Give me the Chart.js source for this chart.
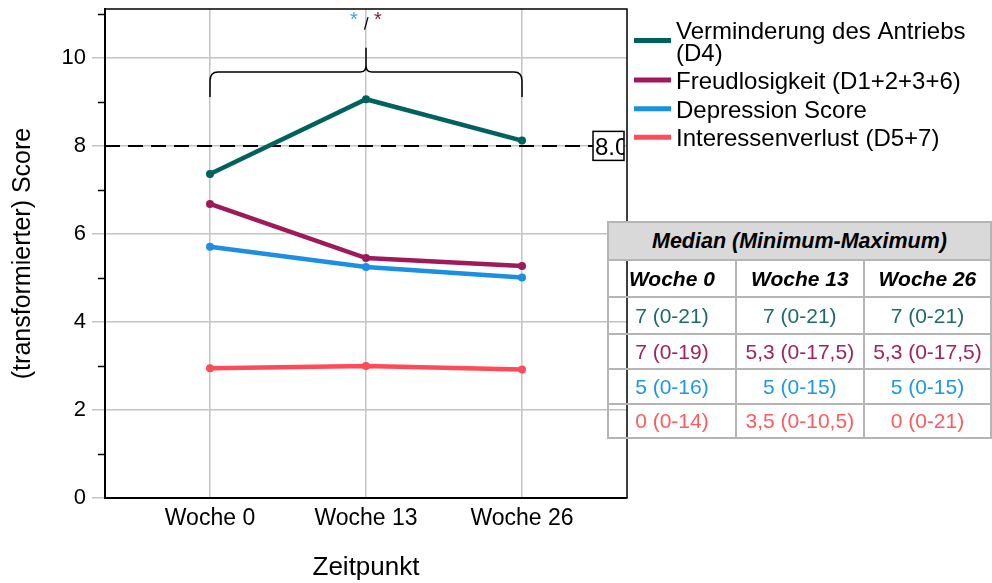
<!DOCTYPE html>
<html lang="de">
<head>
<meta charset="utf-8">
<title>Score im Verlauf</title>
<script src="https://cdn.jsdelivr.net/npm/chart.js@4.4.1/dist/chart.umd.min.js"></script>
<style>
  html, body { margin: 0; padding: 0; background: #fff; overflow: hidden; width: 992px; height: 583px; }
  #wrap { position: relative; width: 992px; height: 583px; }
  #chart { position: absolute; left: 0; top: 0; }
  #medianTable {
    position: absolute; left: 607px; top: 221px;
    border-collapse: collapse; table-layout: fixed;
    font-family: "Liberation Sans", Arial, sans-serif; font-size: 21px;
  }
  #medianTable td, #medianTable th {
    border: 2px solid #b5b5b5; text-align: center; vertical-align: middle;
    padding: 0; white-space: nowrap; overflow: hidden;
  }
  #medianTable th { font-weight: bold; font-style: italic; color: #000; }
  #medianTable tr.title th { background: #d9d9d9; height: 36px; font-size: 21.5px; }
  #medianTable tr.cols th { height: 35px; }
  #medianTable tr.r0 td { height: 35px; }
  #medianTable tr.r1 td { height: 33px; }
  #medianTable tr.r2 td { height: 33px; }
  #medianTable tr.r3 td { height: 32px; }
</style>
</head>
<body>
<div id="wrap">
  <canvas id="chart" width="992" height="583"></canvas>
  <table id="medianTable"></table>
</div>
<script>
// Zeitpunkte
const categories = ['Woche 0', 'Woche 13', 'Woche 26'];

// Mittelwerte der (transformierten) Scores je Zeitpunkt
const antrieb        = [7.36, 9.06, 8.12];
const freudlosigkeit = [6.68, 5.45, 5.27];
const depression     = [5.71, 5.25, 5.01];
const interesse      = [2.95, 3.00, 2.92];

const seriesLabels = [
  ['Verminderung des Antriebs', '(D4)'],
  ['Freudlosigkeit (D1+2+3+6)'],
  ['Depression Score'],
  ['Interessenverlust (D5+7)']
];
const seriesColors = ['#00625e', '#9e1a5a', '#1a8fe3', '#ff4b57'];
const tableColors  = ['#1d6c67', '#a0245d', '#2196ee', '#ff5a5f'];

// y-Achse
const yTicks = [0, 1, 2, 3, 4, 5, 6, 7, 8, 9, 10, 11];
const cutoff = 8.0;

// Klammer mit Signifikanzsternen über dem Verlauf
const braceEnd = 9.11;
const braceBar = 9.68;
const braceTip = 10.23;
const starLevel = 10.89;

// Tabelle: Median (Minimum-Maximum)
const tableTitle = 'Median (Minimum-Maximum)';
const medianAntrieb    = ['7 (0-21)', '7 (0-21)', '7 (0-21)'];
const medianFreud      = ['7 (0-19)', '5,3 (0-17,5)', '5,3 (0-17,5)'];
const medianDepression = ['5 (0-16)', '5 (0-15)', '5 (0-15)'];
const medianInteresse  = ['0 (0-14)', '3,5 (0-10,5)', '0 (0-21)'];

const FONT = '"Liberation Sans", Arial, Helvetica, sans-serif';

// --- Tabelle aufbauen ---
(function buildTable() {
  const t = document.getElementById('medianTable');
  const colW = [130, 129, 128];
  let html = '<colgroup>' + colW.map(w => `<col style="width:${w}px">`).join('') + '</colgroup>';
  html += `<tr class="title"><th colspan="3">${tableTitle}</th></tr>`;
  html += '<tr class="cols">' + categories.map(c => `<th>${c}</th>`).join('') + '</tr>';
  [medianAntrieb, medianFreud, medianDepression, medianInteresse].forEach((row, i) => {
    html += `<tr class="r${i}">` + row.map(v => `<td style="color:${tableColors[i]}">${v}</td>`).join('') + '</tr>';
  });
  t.innerHTML = html;
})();

// --- Zusatzelemente: Grenzwertlinie, Rahmen, Nebenstriche, Klammer, Legende ---
const decorations = {
  id: 'decorations',
  beforeDatasetsDraw(chart) {
    const { ctx, chartArea: a, scales: { y } } = chart;
    const yc = y.getPixelForValue(cutoff);
    ctx.save();
    ctx.strokeStyle = '#000';
    ctx.lineWidth = 2;
    ctx.setLineDash([15, 8]);
    ctx.beginPath();
    ctx.moveTo(a.left, yc);
    ctx.lineTo(a.right - 34, yc);
    ctx.stroke();
    ctx.restore();
  },
  afterDatasetsDraw(chart) {
    const { ctx, chartArea: a, scales: { x, y } } = chart;
    ctx.save();

    // Rahmen oben und rechts
    ctx.strokeStyle = '#000';
    ctx.lineWidth = 1.5;
    ctx.beginPath();
    ctx.moveTo(a.left, a.top);
    ctx.lineTo(a.right, a.top);
    ctx.lineTo(a.right, a.bottom);
    ctx.stroke();

    // Nebenstriche an ungeraden Werten
    yTicks.filter(v => v % 2 === 1).forEach(v => {
      const py = Math.round(y.getPixelForValue(v)) + 0.5;
      ctx.beginPath();
      ctx.moveTo(a.left - 7, py);
      ctx.lineTo(a.left, py);
      ctx.stroke();
    });

    // Grenzwert-Beschriftung
    const yc = y.getPixelForValue(cutoff);
    const boxW = 31, boxH = 29;
    const boxL = a.right - 3 - boxW, boxT = yc - boxH / 2;
    ctx.fillStyle = '#fff';
    ctx.fillRect(boxL, boxT, boxW, boxH);
    ctx.lineWidth = 1.5;
    ctx.strokeRect(boxL, boxT, boxW, boxH);
    ctx.save();
    ctx.beginPath();
    ctx.rect(boxL, boxT, boxW, boxH);
    ctx.clip();
    ctx.fillStyle = '#000';
    ctx.font = '24px ' + FONT;
    ctx.textAlign = 'left';
    ctx.textBaseline = 'alphabetic';
    ctx.fillText(cutoff.toFixed(1), boxL + 2, yc + 9);
    ctx.restore();

    // geschweifte Klammer
    const xl = x.getPixelForValue(0), xm = x.getPixelForValue(1), xr = x.getPixelForValue(2);
    const yE = y.getPixelForValue(braceEnd), yB = y.getPixelForValue(braceBar), yT = y.getPixelForValue(braceTip);
    const r = 6;
    ctx.strokeStyle = '#000';
    ctx.lineWidth = 1.5;
    ctx.beginPath();
    ctx.moveTo(xl, yE);
    ctx.lineTo(xl, yB + 9);
    ctx.quadraticCurveTo(xl, yB, xl + r + 2, yB);
    ctx.lineTo(xm - r, yB);
    ctx.quadraticCurveTo(xm, yB, xm, yB - r);
    ctx.lineTo(xm, yT);
    ctx.moveTo(xm, yB - r);
    ctx.quadraticCurveTo(xm, yB, xm + r, yB);
    ctx.lineTo(xr - r - 2, yB);
    ctx.quadraticCurveTo(xr, yB, xr, yB + 9);
    ctx.lineTo(xr, yE);
    ctx.stroke();

    // Sterne und Schrägstrich
    const ys = y.getPixelForValue(starLevel);
    ctx.font = '20px ' + FONT;
    ctx.textAlign = 'center';
    ctx.textBaseline = 'alphabetic';
    ctx.fillStyle = '#3aa2ee';
    ctx.fillText('*', x.getPixelForValue(0.923), ys + 7);
    ctx.fillStyle = '#7b1f2e';
    ctx.fillText('*', x.getPixelForValue(1.077), ys + 7);
    ctx.strokeStyle = '#000';
    ctx.lineWidth = 1.3;
    ctx.beginPath();
    ctx.moveTo(xm - 1.5, ys + 11);
    ctx.lineTo(xm + 2, ys - 1.5);
    ctx.stroke();

    ctx.restore();
  },
  afterDraw(chart) {
    // Legende rechts oben
    const { ctx } = chart;
    ctx.save();
    ctx.font = '24px ' + FONT;
    ctx.textAlign = 'left';
    ctx.textBaseline = 'alphabetic';
    let base = 38.5;
    seriesLabels.forEach((lines, i) => {
      const mids = lines.map((_, k) => base + k * 22 - 8);
      const ly = mids.reduce((s, v) => s + v, 0) / mids.length - 1;
      ctx.strokeStyle = seriesColors[i];
      ctx.lineWidth = 5;
      ctx.beginPath();
      ctx.moveTo(634, ly);
      ctx.lineTo(671, ly);
      ctx.stroke();
      ctx.fillStyle = '#000';
      lines.forEach((t, k) => ctx.fillText(t, 676, base + k * 22));
      base += (lines.length - 1) * 22 + 28.6;
    });
    ctx.restore();
  }
};

const toPoints = arr => arr.map((v, i) => ({ x: i, y: v }));
const seriesValues = [antrieb, freudlosigkeit, depression, interesse];

new Chart(document.getElementById('chart'), {
  type: 'line',
  data: {
    datasets: seriesValues.map((vals, i) => ({
      label: seriesLabels[i].join(' '),
      data: toPoints(vals),
      borderColor: seriesColors[i],
      backgroundColor: seriesColors[i],
      borderWidth: 4.5,
      pointRadius: 4,
      pointBorderWidth: 0,
      tension: 0,
      fill: false,
      order: i
    }))
  },
  options: {
    responsive: false,
    animation: false,
    layout: { padding: { top: 9, right: 365, bottom: 0, left: 0 } },
    plugins: { legend: { display: false }, tooltip: { enabled: false } },
    scales: {
      x: {
        type: 'linear',
        min: -0.673,
        max: 2.673,
        afterBuildTicks: s => { s.ticks = categories.map((c, i) => ({ value: i })); },
        ticks: {
          callback: v => categories[v],
          font: { family: FONT, size: 23 },
          color: '#000',
          padding: 7,
          maxRotation: 0
        },
        grid: { color: '#c4c4c4', lineWidth: 1.5, drawTicks: false },
        border: { color: '#000', width: 2 },
        title: {
          display: true, text: 'Zeitpunkt', color: '#000',
          font: { family: FONT, size: 26 }, padding: { top: 0, bottom: 0 }
        },
        afterFit: s => { s.height = 85; s.paddingLeft = 0; s.paddingRight = 0; }
      },
      y: {
        min: 0,
        max: 11.11,
        afterBuildTicks: s => { s.ticks = yTicks.map(v => ({ value: v })); },
        ticks: {
          callback: v => (v % 2 === 0 ? String(v) : ''),
          font: { family: FONT, size: 22 },
          color: '#000',
          padding: 6
        },
        grid: {
          color: c => (c.tick && c.tick.value % 2 === 0 ? '#c4c4c4' : 'rgba(0,0,0,0)'),
          lineWidth: 1.5,
          tickLength: 13
        },
        border: { color: '#000', width: 2 },
        title: {
          display: true, text: '(transformierter) Score', color: '#000',
          font: { family: FONT, size: 25 }, padding: { top: 8, bottom: 0 }
        },
        afterFit: s => { s.width = 105; s.paddingTop = 0; s.paddingBottom = 0; }
      }
    }
  },
  plugins: [decorations]
});
</script>
</body>
</html>
